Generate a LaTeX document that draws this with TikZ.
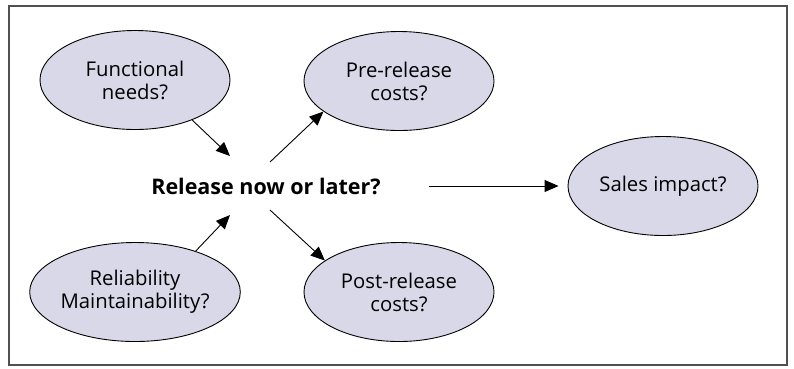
\documentclass[tikz,border=0pt]{standalone}
\usepackage{fontspec}
\setmainfont{Open Sans}
\usetikzlibrary{shapes.geometric,arrows.meta}
\definecolor{bubblefill}{RGB}{217,216,232}
\definecolor{framegray}{RGB}{80,80,80}
\begin{document}
\begin{tikzpicture}[x=1pt,y=-1pt]
\tikzstyle{bubble}=[draw,ellipse,line width=0.9pt,fill=bubblefill,minimum width=190pt,minimum height=99pt,inner sep=0pt,align=center,font=\fontsize{20.3}{23}\selectfont]
\tikzstyle{decision}=[inner sep=0pt,font=\fontsize{21.5}{23}\selectfont\bfseries]
\tikzstyle{link}=[-{Triangle[length=14pt,width=12pt]},line width=0.9pt]
\useasboundingbox (0,0) rectangle (794,368);
\draw[framegray,line width=1.4pt] (9,6) rectangle (787,365);
\draw (135,80)  node[bubble] (func)  {Functional\\needs?};
\draw (399,81)  node[bubble] (pre)   {Pre-release\\costs?};
\draw (135,292) node[bubble] (relia) {Reliability\\Maintainability?};
\draw (399,292) node[bubble] (post)  {Post-release\\costs?};
\draw (663,186) node[bubble] (sales) {Sales impact?};
\draw (266,186) node[decision] (choice) {Release now or later?};
\coordinate (inNW) at (230,156);
\coordinate (outNE) at (270,162);
\coordinate (inSW) at (230,215);
\coordinate (outSE) at (270,210);
\coordinate (outE) at (429,186);
\draw[link] (func.-35) -- (inNW);
\draw[link] (outNE) -- (pre.202);
\draw[link] (relia.34) -- (inSW);
\draw[link] (outSE) -- (post.157);
\draw[link,shorten >=9pt] (outE) -- (sales.west);
\end{tikzpicture}
\end{document}
